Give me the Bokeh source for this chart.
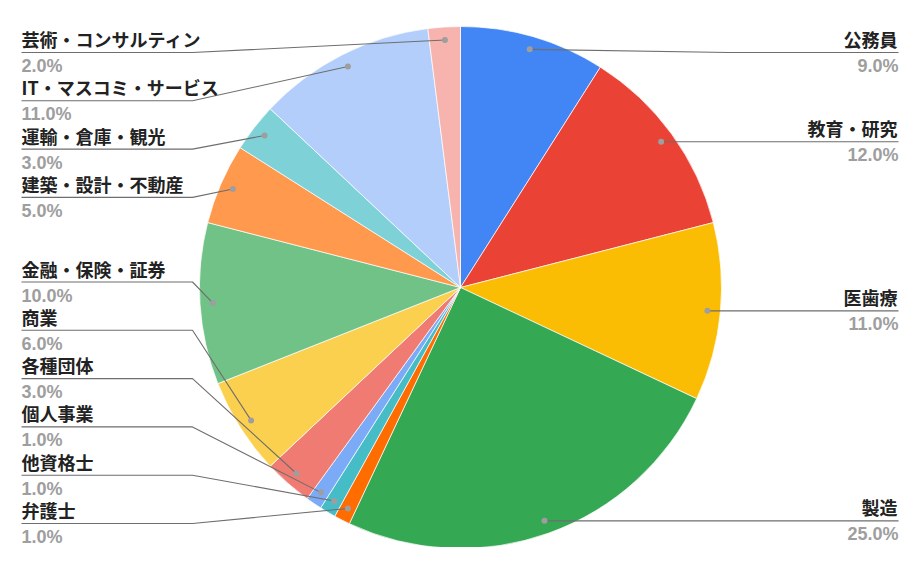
import numpy as np
from bokeh.plotting import figure
from bokeh.models import Range1d, ColumnDataSource
from bokeh.core.properties import value
from bokeh.embed import file_html
from bokeh.resources import INLINE

# ---- data ----
names = ["公務員", "教育・研究", "医歯療", "製造", "弁護士", "他資格士", "個人事業",
         "各種団体", "商業", "金融・保険・証券", "建築・設計・不動産", "運輸・倉庫・観光",
         "IT・マスコミ・サービス", "芸術・コンサルティン"]
values = [9.0, 12.0, 11.0, 25.0, 1.0, 1.0, 1.0, 3.0, 6.0, 10.0, 5.0, 3.0, 11.0, 2.0]
colors = ["#4285F4", "#EA4335", "#FBBC04", "#34A853", "#FF6D01", "#46BDC6", "#7BAAF7",
          "#F07B72", "#FCD04F", "#71C287", "#FF994D", "#7ED1D7", "#B3CEFB", "#F7B4AE"]

# ---- geometry (data y = -screen y) ----
W, H = 900, 547
cx, cy = 460.0, -287.0
R = 261.0
RDOT = 248.0

vals = np.array(values)
frac = vals / vals.sum()
cum = np.cumsum(frac)
start = np.pi / 2 - 2 * np.pi * (cum - frac)
end = np.pi / 2 - 2 * np.pi * cum
mid = np.pi / 2 - 2 * np.pi * (cum - frac / 2)
dotx = cx + RDOT * np.cos(mid)
doty = cy + RDOT * np.sin(mid)

p = figure(width=W, height=H, x_range=Range1d(0, W), y_range=Range1d(-H, 0),
           output_backend="svg", toolbar_location=None, min_border=0)
p.axis.visible = False
p.grid.visible = False
p.outline_line_color = None
p.background_fill_color = "white"

src = ColumnDataSource(dict(start=start, end=end, color=colors))
p.wedge(x=cx, y=cy, radius=R, start_angle="start", end_angle="end", direction="clock",
        fill_color="color", line_color="white", line_width=0.7, source=src)


def layout(idx, ymin=52.0, ymax=523.0, gap=48.3):
    idx = sorted(idx, key=lambda i: -doty[i])
    ys = [-doty[i] for i in idx]
    ys[0] = max(ys[0], ymin)
    for k in range(1, len(ys)):
        ys[k] = max(ys[k], ys[k - 1] + gap)
    ys[-1] = min(ys[-1], ymax)
    for k in range(len(ys) - 2, -1, -1):
        ys[k] = min(ys[k], ys[k + 1] - gap)
    return dict(zip(idx, ys))


right = [i for i in range(len(values)) if np.cos(mid[i]) > 0]
left = [i for i in range(len(values)) if np.cos(mid[i]) <= 0]
ly = {}
ly.update(layout(right))
ly.update(layout(left))

xs, ys = [], []
nl = dict(x=[], y=[], t=[])
pl = dict(x=[], y=[], t=[])
nr = dict(x=[], y=[], t=[])
pr = dict(x=[], y=[], t=[])
for i in range(len(values)):
    y = ly[i]
    pct = f"{values[i]:.1f}%"
    if i in right:
        xs.append([dotx[i], 728, 898])
        ys.append([doty[i], -y, -y])
        nr["x"].append(897); nr["y"].append(-(y - 13.5)); nr["t"].append(names[i])
        pr["x"].append(898); pr["y"].append(-(y + 13.5)); pr["t"].append(pct)
    else:
        xs.append([21, 192, dotx[i]])
        ys.append([-y, -y, doty[i]])
        nl["x"].append(21); nl["y"].append(-(y - 13.5)); nl["t"].append(names[i])
        pl["x"].append(21); pl["y"].append(-(y + 13.5)); pl["t"].append(pct)

p.multi_line(xs=xs, ys=ys, line_color="#6E6E6E", line_width=1.1)
p.scatter(x=dotx, y=doty, size=6, fill_color="#9E9E9E", line_color=None)

NAME_FONT = value("Noto Sans CJK JP")
PCT_FONT = value("Liberation Sans")
for d, align in ((nl, "left"), (nr, "right")):
    p.text(x="x", y="y", text="t", source=ColumnDataSource(d), text_align=align,
           text_baseline="middle", text_font=NAME_FONT, text_font_style="bold",
           text_font_size="18px", text_color="#222222")
for d, align in ((pl, "left"), (pr, "right")):
    p.text(x="x", y="y", text="t", source=ColumnDataSource(d), text_align=align,
           text_baseline="middle", text_font=PCT_FONT, text_font_style="bold",
           text_font_size="18px", text_color="#9E9E9E")

open("out.html", "w").write(file_html(p, INLINE))
